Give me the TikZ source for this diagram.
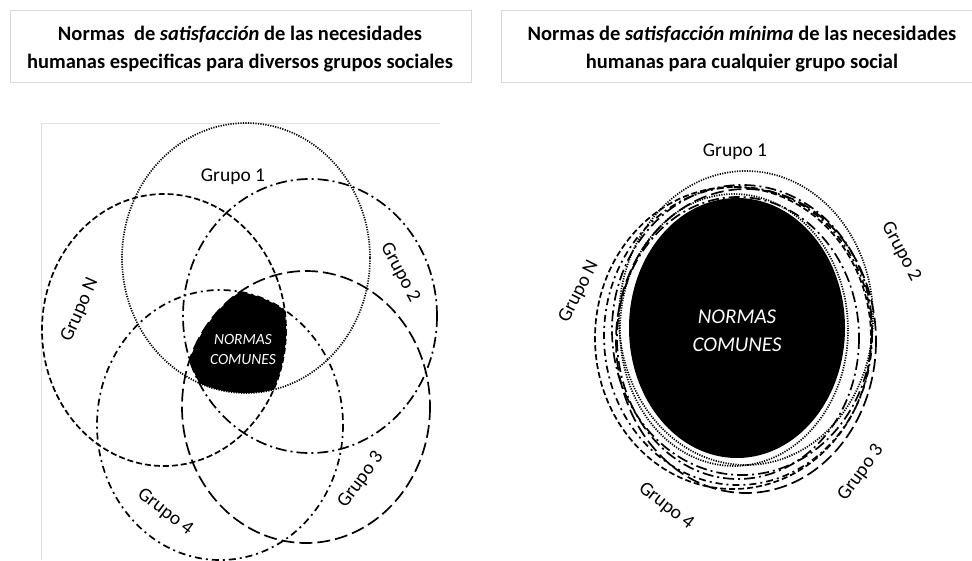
\documentclass[tikz,border=0pt]{standalone}
\usepackage{fontspec}
\setmainfont{Carlito}
\begin{document}
\begin{tikzpicture}[x=1pt,y=-1pt,
  ring/.style={line width=1.7pt,black},
  gdot/.style={ring,dash pattern=on 1.2pt off 1.3pt},
  gN/.style={ring,dash pattern=on 6pt off 3pt},
  gtwo/.style={ring,dash pattern=on 11pt off 4pt on 2pt off 4pt},
  gthree/.style={ring,dash pattern=on 13pt off 5pt},
  gfour/.style={ring,dash pattern=on 7pt off 4pt on 2pt off 4pt},
  lab/.style={font=\fontsize{19.5}{22}\selectfont,inner sep=0pt},
  titlebox/.style={draw=black!15,line width=0.8pt,fill=white},
  ttl/.style={font=\bfseries\fontsize{20.5}{28}\selectfont,align=center,inner sep=0pt},
  nc/.style={text=white,font=\itshape\fontsize{15.5}{20}\selectfont,align=center,inner sep=0pt}]
\useasboundingbox (0,0) rectangle (972,560);
% title boxes
\draw[titlebox] (10,10) rectangle (471,82);
\node[ttl] (tl) at (240,49) {Normas\ \ de \textit{satisfacción} de las necesidades\\humanas especificas para diversos grupos sociales};
\draw[titlebox] (501,10) rectangle (980,82);
\node[ttl] (tr) at (742,49) {Normas de \textit{satisfacción mínima} de las necesidades\\humanas para cualquier grupo social};
% left frame
\draw[black!12,line width=0.8pt] (41,560) -- (41,123) -- (440,123);
% common region left
\begin{scope}
\clip (246,258) ellipse [x radius=124, y radius=135];
\clip (164,330) ellipse [x radius=122, y radius=136];
\clip (310,316) ellipse [x radius=127, y radius=137];
\clip (306,407) ellipse [x radius=124, y radius=136];
\clip (220,425) ellipse [x radius=123, y radius=135];
\fill[black] (0,0) rectangle (972,560);
\end{scope}
\draw[gdot] (246,258) ellipse [x radius=124, y radius=135];
\draw[gN] (164,330) ellipse [x radius=122, y radius=136];
\draw[gtwo] (310,316) ellipse [x radius=127, y radius=137];
\draw[gthree] (306,407) ellipse [x radius=124, y radius=136];
\draw[gfour] (220,425) ellipse [x radius=123, y radius=135];
\node[nc] (ncl) at (243,350) {NORMAS\\COMUNES};
\node[lab] (l1) at (233,177) {Grupo 1};
\node[lab,rotate=-62] (l2) at (400,273) {Grupo 2};
\node[lab,rotate=66] (lN) at (80,310) {Grupo N};
\node[lab,rotate=54] (l3) at (361,480) {Grupo 3};
\node[lab,rotate=-37] (l4) at (165,512) {Grupo 4};
% right diagram
\fill[black] (737,328) ellipse [x radius=108, y radius=130];
\draw[gdot] (746,318) ellipse [x radius=127, y radius=147];
\draw[gdot] (734,330) ellipse [x radius=114, y radius=136];
\draw[gN] (733,338) ellipse [x radius=138, y radius=151];
\draw[gtwo] (742,330) ellipse [x radius=130, y radius=145];
\draw[gthree] (746,341) ellipse [x radius=130, y radius=152];
\draw[gfour] (738,336) ellipse [x radius=134, y radius=149];
\draw[gtwo] (738,338) ellipse [x radius=121, y radius=141];
\node[nc,font=\itshape\fontsize{21}{28}\selectfont] (ncr) at (737,331) {NORMAS\\COMUNES};
\node[lab] (r1) at (735,152) {Grupo 1};
\node[lab,rotate=-62] (r2) at (901,252) {Grupo 2};
\node[lab,rotate=63] (rN) at (579,292) {Grupo N};
\node[lab,rotate=54] (r3) at (861,473) {Grupo 3};
\node[lab,rotate=-38] (r4) at (666,506) {Grupo 4};
\end{tikzpicture}
\end{document}
